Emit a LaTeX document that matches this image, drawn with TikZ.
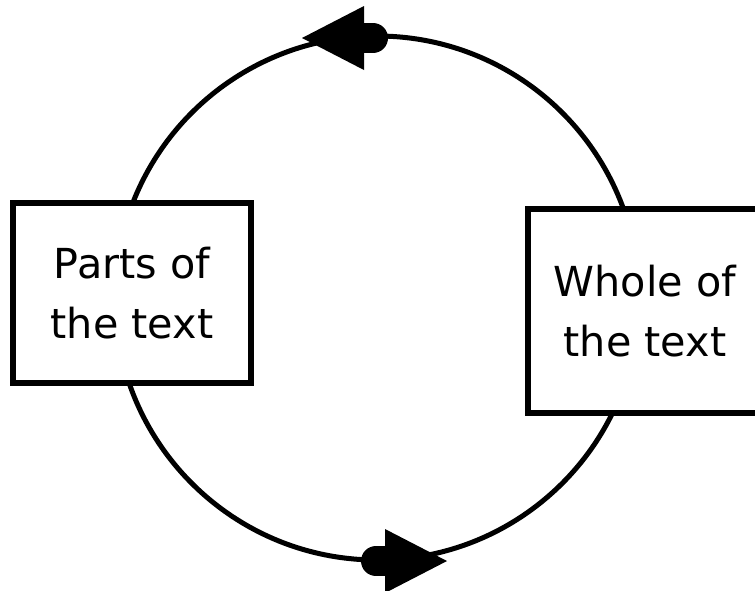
\documentclass[tikz,border=0pt]{standalone}
\usepackage{fontspec}
\setmainfont{DejaVu Sans}
\newcommand{\drawroundarrow}[3]{   % tip x, tip y, direction (1 right, -1 left)
	\fill ({#1}, {#2}) -- ({#1-62*(#3)}, {#2-32}) -- ({#1-62*(#3)}, {#2+32}) -- cycle;
	\draw[line width=22.5pt, line cap=round] ({#1-60*(#3)}, {#2}) -- ({#1-71*(#3)}, {#2});
}
\tikzset{
	textbox/.style={draw, line width=4.2pt, fill=white, align=center, inner sep=0pt,
		font=\fontsize{31}{44.5}\selectfont}
}

\begin{document}
\begin{tikzpicture}[x=0.75pt, y=-0.75pt]
\useasboundingbox (0, 0) rectangle (755, 590);

\draw[line width=3.75pt] (377, 298) circle[radius=262];

\drawroundarrow{302}{38}{-1};
\drawroundarrow{447}{561}{1};

\node[textbox, minimum width=178.5pt, minimum height=135pt] (parts) at (132, 293) {Parts of\\the text};
\node[textbox, minimum width=175.5pt, minimum height=153pt] (whole) at (645, 311) {Whole of\\the text};
\end{tikzpicture}
\end{document}
